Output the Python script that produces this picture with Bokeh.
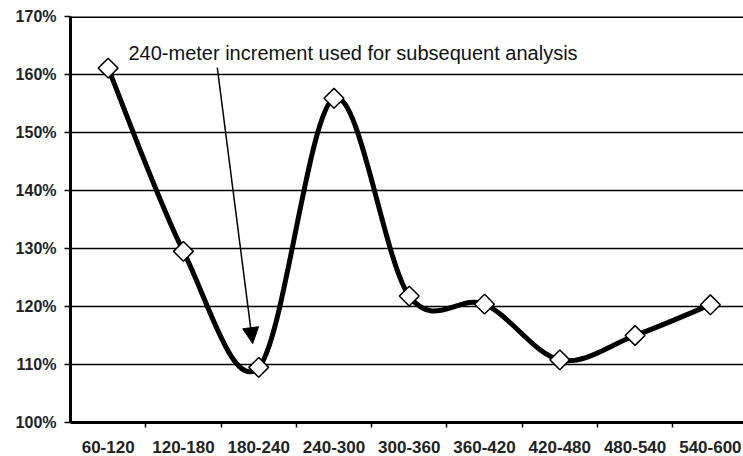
import math
from bokeh.plotting import figure
from bokeh.models import (FixedTicker, PrintfTickFormatter, Span, Arrow, NormalHead,
                          Label, ColumnDataSource, Range1d, CustomJSTickFormatter)
from bokeh.embed import file_html
from bokeh.resources import INLINE

categories = ["60-120", "120-180", "180-240", "240-300", "300-360",
              "360-420", "420-480", "480-540", "540-600"]
values = [161.1, 129.5, 109.5, 155.9, 121.8, 120.4, 110.8, 115.0, 120.3]
y_ticks = [100, 110, 120, 130, 140, 150, 160, 170]
annotation = "240-meter increment used for subsequent analysis"

FONT = "Liberation Sans"
xs = [i + 0.5 for i in range(len(categories))]
bounds = [i for i in range(1, len(categories))]

# smoothed line (Catmull-Rom style bezier segments, like a spreadsheet "smoothed line")
n = len(values)
seg = dict(x0=[], y0=[], x1=[], y1=[], cx0=[], cy0=[], cx1=[], cy1=[])
for i in range(n - 1):
    a = max(i - 1, 0)
    b = min(i + 2, n - 1)
    seg["x0"].append(xs[i]); seg["y0"].append(values[i])
    seg["x1"].append(xs[i + 1]); seg["y1"].append(values[i + 1])
    seg["cx0"].append(xs[i] + (xs[i + 1] - xs[a]) / 6)
    seg["cy0"].append(values[i] + (values[i + 1] - values[a]) / 6)
    seg["cx1"].append(xs[i + 1] - (xs[b] - xs[i]) / 6)
    seg["cy1"].append(values[i + 1] - (values[b] - values[i]) / 6)

p = figure(frame_width=673, frame_height=406,
           x_range=Range1d(0, 8.94), y_range=Range1d(100, 170),
           output_backend="svg", toolbar_location=None,
           min_border_left=70, min_border_top=16, min_border_right=0, min_border_bottom=34)
p.outline_line_color = None
p.background_fill_color = "white"
p.border_fill_color = "white"

# y axis
ya = p.yaxis[0]
ya.ticker = FixedTicker(ticks=y_ticks)
ya.formatter = PrintfTickFormatter(format="%d%%")
ya.major_tick_out = 6
ya.major_tick_in = 0
ya.minor_tick_out = 0
ya.minor_tick_in = 0
ya.axis_line_width = 3
ya.axis_line_color = "black"
ya.major_tick_line_width = 1.5
ya.major_tick_line_color = "black"
ya.major_label_text_font = FONT
ya.major_label_text_font_size = "16px"
ya.major_label_text_font_style = "bold"
ya.major_label_text_color = "#222222"
ya.major_label_standoff = 8

# x axis
xa = p.xaxis[0]
xa.ticker = FixedTicker(ticks=xs, minor_ticks=bounds)
xa.formatter = CustomJSTickFormatter(args=dict(labels=categories),
                                     code="return labels[Math.floor(tick)];")
xa.major_tick_out = 0
xa.major_tick_in = 0
xa.minor_tick_out = 5
xa.minor_tick_in = 0
xa.minor_tick_line_width = 1.5
xa.minor_tick_line_color = "black"
xa.axis_line_width = 3
xa.axis_line_color = "black"
xa.major_label_text_font = FONT
xa.major_label_text_font_size = "17px"
xa.major_label_text_font_style = "bold"
xa.major_label_text_color = "#222222"
xa.major_label_standoff = 13

p.xgrid.visible = False
p.ygrid.ticker = FixedTicker(ticks=y_ticks[1:-1])
p.ygrid.grid_line_color = "black"
p.ygrid.grid_line_width = 1.5

p.add_layout(Span(location=170, dimension="width", line_color="black", line_width=3))

src = ColumnDataSource(seg)
p.bezier(x0="x0", y0="y0", x1="x1", y1="y1", cx0="cx0", cy0="cy0", cx1="cx1", cy1="cy1",
         source=src, line_color="black", line_width=5)
p.scatter(xs, values, marker="square", angle=math.pi / 4, size=14,
          fill_color="white", line_color="black", line_width=1.5)

p.add_layout(Label(x=0.77, y=163.7, text=annotation, text_font=FONT,
                   text_font_size="20px", text_color="#111111",
                   text_baseline="alphabetic"))
p.add_layout(Arrow(x_start=1.95, y_start=161.2, x_end=2.42, y_end=113.6,
                   line_color="black", line_width=1.5,
                   end=NormalHead(size=16, fill_color="black", line_color="black")))

open("out.html", "w").write(file_html(p, INLINE))
